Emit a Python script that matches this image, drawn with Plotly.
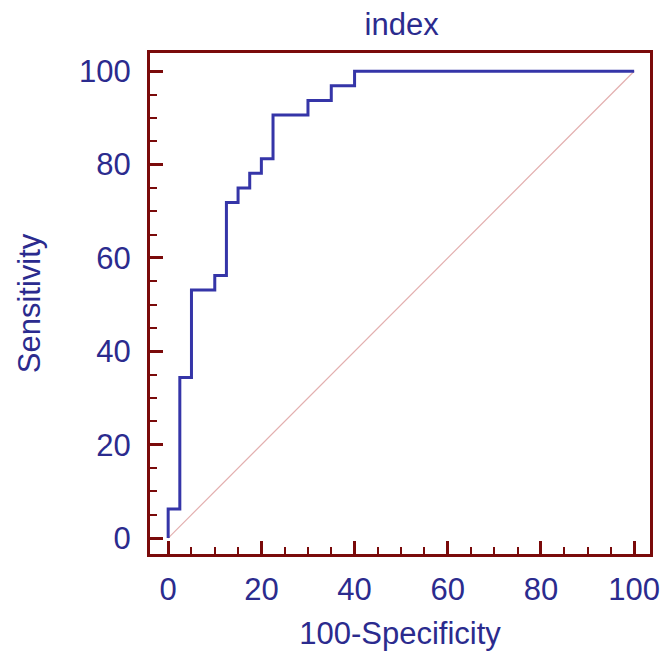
import plotly.graph_objects as go

# ROC curve data
fpr = [0, 0, 2.5, 2.5, 5, 5, 10, 10, 12.5, 12.5, 15, 15, 17.5, 17.5, 20, 20, 22.5, 22.5, 30, 30, 35, 35, 40, 40, 100]
tpr = [0, 6.25, 6.25, 34.375, 34.375, 53.125, 53.125, 56.25, 56.25, 71.875, 71.875, 75, 75, 78.125, 78.125, 81.25, 81.25, 90.625, 90.625, 93.75, 93.75, 96.875, 96.875, 100, 100]
diag_x = [0, 100]
diag_y = [0, 100]
tick_vals = [0, 20, 40, 60, 80, 100]

TXT = "#2B2B8E"
AX = "#7A0A0A"
FONT = "Liberation Sans, Arial, sans-serif"

fig = go.Figure()
fig.add_trace(go.Scatter(x=diag_x, y=diag_y, mode="lines",
                         line=dict(color="#E3AFAF", width=1.2), hoverinfo="skip"))
fig.add_trace(go.Scatter(x=fpr, y=tpr, mode="lines",
                         line=dict(color="#3535A8", width=3)))

axis_common = dict(
    showgrid=False, zeroline=False, automargin=False,
    showline=True, linecolor=AX, linewidth=3, mirror=True,
    ticks="inside", ticklen=13, tickwidth=3, tickcolor=AX,
    tickvals=tick_vals,
    tickfont=dict(family=FONT, size=31, color=TXT),
    minor=dict(ticks="inside", ticklen=7, tickwidth=2, tickcolor=AX, dtick=5, tick0=0, showgrid=False),
)

fig.update_layout(
    width=665, height=653,
    margin=dict(l=150, r=15, t=53, b=99),
    paper_bgcolor="white", plot_bgcolor="white",
    showlegend=False,
    font=dict(family=FONT, color=TXT),
    title=dict(text="index", x=0.604, xanchor="center", y=0.979, yanchor="top",
               font=dict(family=FONT, size=31, color=TXT)),
)
fig.update_xaxes(range=[-3.9, 103.4], ticklabelstandoff=6,
                 title=dict(text="100-Specificity", font=dict(family=FONT, size=31, color=TXT), standoff=17),
                 **axis_common)
fig.update_yaxes(range=[-3.4, 103.9], ticklabelstandoff=10,
                 title=dict(text="Sensitivity", font=dict(family=FONT, size=31, color=TXT), standoff=30),
                 **axis_common)

fig.write_html("out.html")
